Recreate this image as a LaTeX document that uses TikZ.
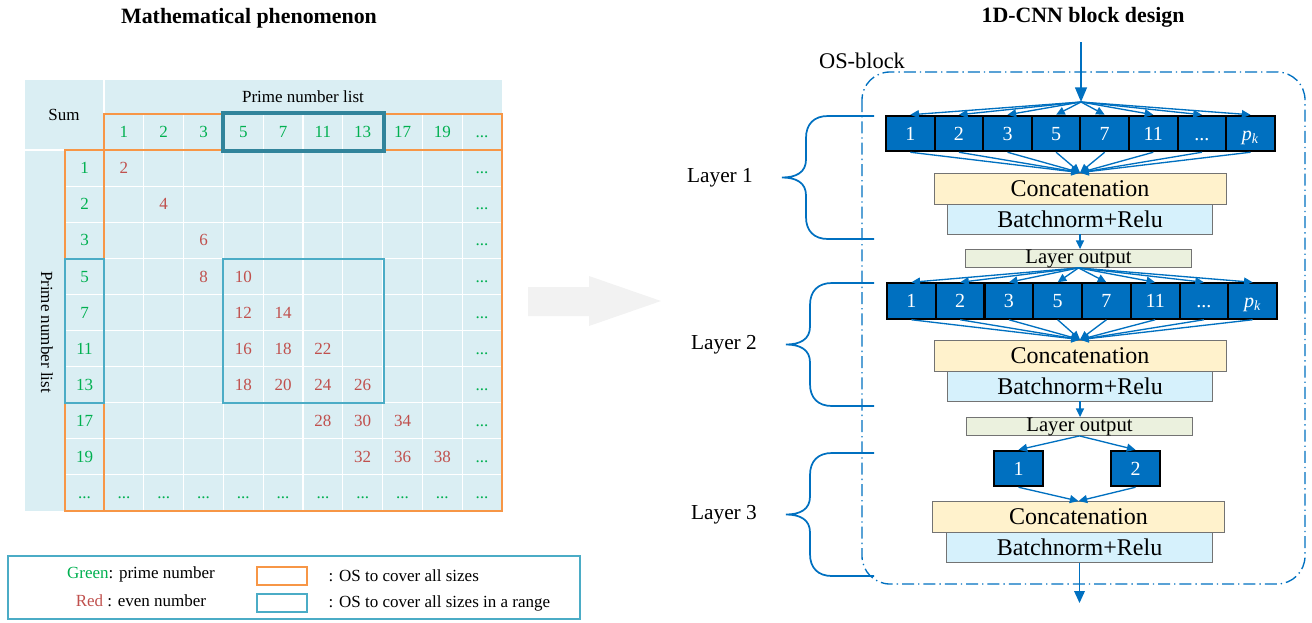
\documentclass[tikz,border=0pt]{standalone}
\usepackage{fontspec}
\setmainfont{Liberation Serif}
\usetikzlibrary{arrows.meta, calc}

\definecolor{celda}{HTML}{DAEEF3}
\definecolor{verde}{HTML}{00B050}
\definecolor{rojo}{HTML}{C0504D}
\definecolor{naranja}{HTML}{F79646}
\definecolor{azulc}{HTML}{4BACC6}
\definecolor{azulo}{HTML}{31849B}
\definecolor{azul}{HTML}{0070C0}
\definecolor{crema}{HTML}{FFF2CC}
\definecolor{celeste}{HTML}{D6F1FC}
\definecolor{oliva}{HTML}{EBF1DE}
\definecolor{gris}{HTML}{F2F2F2}

\newcommand{\ptos}{...}
\newcommand{\pk}{\textit{p}\textsubscript{\textit{k}}}

\begin{document}
\begin{tikzpicture}[x=0.75pt, y=-0.75pt,
  >={Triangle[length=6.5pt, width=6pt]}, line width=1.1pt,
  tabla/.style={font=\fontsize{12.75}{14}\selectfont, inner sep=0pt},
  primo/.style={tabla, text=verde, text height=8.6pt, text depth=0pt},
  suma/.style={tabla, text=rojo, text height=8.6pt, text depth=0pt},
  nucleo/.style={draw=black, line width=1.5pt, fill=azul, text=white, inner sep=0pt,
    minimum width=36.5pt, minimum height=26.6pt, text height=10pt, text depth=0pt,
    font=\fontsize{15}{16}\selectfont},
  concat/.style={draw=black!55, line width=0.6pt, fill=crema, inner sep=0pt,
    minimum width=219pt, minimum height=23.3pt, font=\fontsize{18}{19}\selectfont},
  bnrelu/.style={concat, fill=celeste, minimum width=199pt, minimum height=22.5pt},
  salida/.style={concat, fill=oliva, minimum width=169pt, minimum height=13.5pt,
    font=\fontsize{15.5}{16}\selectfont},
  flujo/.style={->, draw=azul, line width=1pt},
  llave/.style={draw=azul, line width=1.3pt},
  ]
  \useasboundingbox (0,0) rectangle (1312,622);

  % tabla de sumas
  \node[font=\fontsize{16.4}{18}\selectfont\bfseries] (tit1) at (249,18) {Mathematical phenomenon};
  \fill[celda] (25,80) rectangle (502,511);
  \foreach \j in {1,...,9}
    \draw[white, line width=0.8pt] ({104+39.8*\j},114) -- ({104+39.8*\j},511);
  \foreach \i in {1,...,9}
    \draw[white, line width=0.8pt] (65,{150+36.1*\i}) -- (502,{150+36.1*\i});
  \draw[white, line width=1.5pt] (104,80) -- (104,150) (25,150) -- (104,150);
  \node[tabla] (sum) at (64,115) {Sum};
  \node[tabla] (lista) at (303,97) {Prime number list};
  \node[tabla, rotate=-90] (listav) at (47,332) {Prime number list};
  \foreach \p [count=\j] in {1,2,3,5,7,11,13,17,19,\ptos}
    \node[primo] (h-\j) at ({104+39.8*(\j-0.5)},132) {\p};
  \foreach \p [count=\i] in {1,2,3,5,7,11,13,17,19,\ptos}
    \node[primo] (r-\i) at (84.5,{150+36.1*(\i-0.5)}) {\p};
  \foreach \i/\j/\sm in {1/1/2, 2/2/4, 3/3/6, 4/3/8, 4/4/10, 5/4/12, 5/5/14,
      6/4/16, 6/5/18, 6/6/22, 7/4/18, 7/5/20, 7/6/24, 7/7/26,
      8/6/28, 8/7/30, 8/8/34, 9/7/32, 9/8/36, 9/9/38}
    \node[suma] (s-\i-\j) at ({104+39.8*(\j-0.5)},{150+36.1*(\i-0.5)}) {\sm};
  \foreach \i in {1,...,9}
    \node[primo] (d-\i) at (482.1,{150+36.1*(\i-0.5)}) {\ptos};
  \foreach \j in {1,...,10}
    \node[primo] (e-\j) at ({104+39.8*(\j-0.5)},492.9) {\ptos};
  % marcos OS
  \draw[naranja, line width=1.5pt] (104,114) rectangle (502,511) (104,150) -- (502,150)
    (65,150) rectangle (104,511);
  \draw[azulo, line width=2.6pt] (223,113) rectangle (384,151);
  \draw[azulc, line width=2.2pt] (65,259) rectangle (104,403) (223,259) rectangle (384,403);

  % leyenda
  \draw[azulc, line width=0.8pt] (8,556) rectangle (580,619);
  \node[tabla] (ley1) at (141,574) {\textcolor{verde}{Green}: prime number};
  \node[tabla] (ley2) at (141,601) {\textcolor{rojo}{Red} : even number};
  \draw[naranja, line width=1.6pt] (257,567) rectangle (307,585);
  \draw[azulc, line width=1.6pt] (257,594) rectangle (307,612);
  \node[tabla, anchor=west] (ley3) at (328,576) {: OS to cover all sizes};
  \node[tabla, anchor=west] (ley4) at (328,603) {: OS to cover all sizes in a range};

  % flecha gris
  \fill[gris] (528,287) -- (589,287) -- (589,276) -- (661,301) -- (589,326) -- (589,316)
    -- (528,316) -- cycle;

  % bloque OS
  \node[font=\fontsize{16.4}{18}\selectfont\bfseries] (tit2) at (1083,17) {1D-CNN block design};
  \node[font=\fontsize{16.8}{18}\selectfont] (os) at (862,61) {OS-block};
  \draw[azul, line width=1pt, dash pattern=on 9pt off 3pt on 1pt off 3pt,
    rounded corners=21pt] (862,72) rectangle (1305,584);

  % capa 1
  \coordinate (ent) at (1081,42);
  \coordinate (ab) at (1081,102);
  \draw[flujo, >={Triangle[length=11pt, width=9pt]}] (ent) -- (ab);
  \foreach \p [count=\i] in {1,2,3,5,7,11,\ptos,\pk}
    \node[nucleo] (a-\i) at ({910.3+48.6*(\i-1)},133.5) {\p};
  \node[concat] (cat1) at (1080,188.5) {Concatenation};
  \node[bnrelu] (bn1) at (1080,219) {Batchnorm+Relu};
  \node[salida] (out1) at (1078.5,258.5) {Layer output};
  \foreach \i in {1,...,8} {
    \draw[flujo] (ab) -- (a-\i.north);
    \draw[flujo] (a-\i.south) -- (cat1.north);
  }
  \draw[flujo] (bn1.south) -- (bn1.south |- out1.north);

  % capa 2
  \foreach \p [count=\i] in {1,2,3,5,7,11,\ptos,\pk}
    \node[nucleo] (b-\i) at ({911.4+48.75*(\i-1)},301) {\p};
  \node[concat] (cat2) at (1080,355.5) {Concatenation};
  \node[bnrelu] (bn2) at (1080,386) {Batchnorm+Relu};
  \node[salida] (out2) at (1079.5,426.5) {Layer output};
  \foreach \i in {1,...,8} {
    \draw[flujo] (out1.south) -- (b-\i.north);
    \draw[flujo] (b-\i.south) -- (cat2.north);
  }
  \draw[flujo] (bn2.south) -- (bn2.south |- out2.north);

  % capa 3
  \node[nucleo] (c-1) at (1018.5,468.5) {1};
  \node[nucleo] (c-2) at (1135.5,468.5) {2};
  \node[concat] (cat3) at (1078.5,517) {Concatenation};
  \node[bnrelu] (bn3) at (1079.5,547.5) {Batchnorm+Relu};
  \coordinate (sal) at (1079.5,603);
  \foreach \i in {1,2} {
    \draw[flujo] (out2.south) -- (c-\i.north);
    \draw[flujo] (c-\i.south) -- (cat3.north);
  }
  \draw[flujo, >={Triangle[length=9pt, width=8pt]}] (bn3.south) -- (sal);

  % llaves de las capas
  \foreach \ya/\yb/\xp/\nn in {116/239/782/1, 283/406/786/2, 453/576/786/3} {
    \pgfmathsetmacro\ym{(\ya+\yb)/2}
    \draw[llave] (874,\ya) -- ({\xp+46},\ya) .. controls ({\xp+32},\ya) and ({\xp+24},{\ya+8})
      .. ({\xp+24},{\ya+22}) -- ({\xp+24},{\ym-18}) .. controls ({\xp+24},{\ym-5}) and ({\xp+14},\ym)
      .. (\xp,\ym) .. controls ({\xp+14},\ym) and ({\xp+24},{\ym+5}) .. ({\xp+24},{\ym+18})
      -- ({\xp+24},{\yb-22}) .. controls ({\xp+24},{\yb-8}) and ({\xp+32},\yb) .. ({\xp+46},\yb)
      -- (874,\yb);
    \node[font=\fontsize{16}{18}\selectfont, anchor=east] (capa-\nn) at ({\xp-24},\ym) {Layer \nn};
  }
\end{tikzpicture}
\end{document}
